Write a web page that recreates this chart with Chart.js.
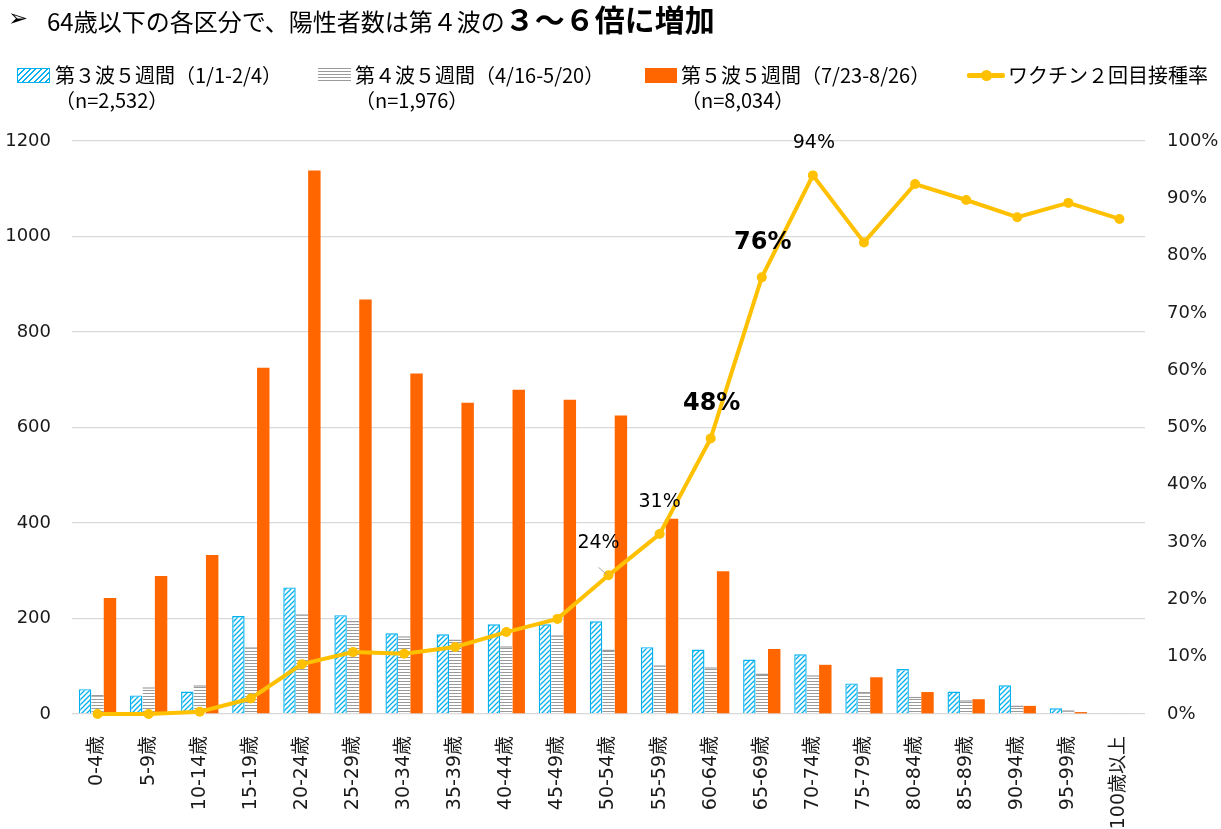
<!DOCTYPE html>
<html lang="ja">
<head>
<meta charset="utf-8">
<script src="https://cdn.jsdelivr.net/npm/chart.js@4/dist/chart.umd.min.js"></script>
<style>
  html, body { margin: 0; padding: 0; background: #fff; }
  #wrap { position: relative; width: 1221px; height: 829px; overflow: hidden; }
  #c { position: absolute; left: 0; top: 0; }
  .jp { font-family: "Noto Sans CJK JP", "Noto Sans", sans-serif; color: #000; white-space: nowrap; }
  #arrow { position: absolute; left: 8px; top: 2px; font: bold 24px "DejaVu Sans", sans-serif; color: #000; line-height: 32px; }
  #title { position: absolute; left: 47px; top: -2px; line-height: 40px; font-size: 24px; }
  #title b { font-size: 30px; font-weight: 700; }
  .lg { position: absolute; font-size: 20px; line-height: 24px; }
  .sw { position: absolute; box-sizing: border-box; }
</style>
</head>
<body>
<div id="wrap">
  <canvas id="c" width="1221" height="829"></canvas>
  <div id="arrow">➢</div>
  <div id="title" class="jp">64歳以下の各区分で、陽性者数は第４波の<b>３～６倍に増加</b></div>

  <div class="sw" style="left:17px;top:68px;width:33px;height:15px;border:1.5px solid #00b0f0;background:repeating-linear-gradient(135deg,#00b0f0 0 1.3px,#fff 1.3px 4px);"></div>
  <div class="lg jp" style="left:55px;top:63px;">第３波５週間（1/1-2/4）</div>
  <div class="lg jp" style="left:55px;top:88px;">（n=2,532）</div>

  <div class="sw" style="left:318px;top:68px;width:33px;height:15px;background:repeating-linear-gradient(to bottom,#9a9a9a 0 1px,#fff 1px 3px);"></div>
  <div class="lg jp" style="left:355px;top:63px;">第４波５週間（4/16-5/20）</div>
  <div class="lg jp" style="left:355px;top:88px;">（n=1,976）</div>

  <div class="sw" style="left:645px;top:68px;width:32px;height:15px;background:#ff6600;"></div>
  <div class="lg jp" style="left:681px;top:63px;">第５波５週間（7/23-8/26）</div>
  <div class="lg jp" style="left:681px;top:88px;">（n=8,034）</div>

  <div class="sw" style="left:967px;top:73px;width:38px;height:5px;background:#ffc000;border-radius:2px;"></div>
  <div class="sw" style="left:981px;top:70px;width:11px;height:11px;background:#ffc000;border-radius:50%;"></div>
  <div class="lg jp" style="left:1008px;top:63px;">ワクチン２回目接種率</div>
</div>
<script>
// ---- data ----
const categories = ['0-4歳','5-9歳','10-14歳','15-19歳','20-24歳','25-29歳','30-34歳','35-39歳','40-44歳','45-49歳','50-54歳','55-59歳','60-64歳','65-69歳','70-74歳','75-79歳','80-84歳','85-89歳','90-94歳','95-99歳','100歳以上'];
const wave3 = [52, 39, 47, 205, 265, 207, 169, 167, 188, 188, 194, 140, 135, 114, 125, 64, 94, 47, 60, 12, 0];
const wave4 = [40, 56, 60, 140, 209, 195, 163, 156, 142, 165, 135, 102, 98, 85, 81, 46, 36, 29, 18, 8, 2];
const wave5 = [243, 289, 333, 725, 1138, 868, 713, 652, 679, 658, 625, 409, 299, 136, 103, 77, 46, 31, 17, 4, 0];
const vaccine2 = [0, 0, 0.4, 2.7, 8.7, 10.8, 10.5, 11.7, 14.3, 16.6, 24.2, 31.4, 48.1, 76.2, 94.0, 82.3, 92.5, 89.7, 86.7, 89.2, 86.4];
const leftTicks = [0, 200, 400, 600, 800, 1000, 1200];
const rightTicks = [0, 10, 20, 30, 40, 50, 60, 70, 80, 90, 100];
const seriesNames = ['第３波５週間（1/1-2/4）（n=2,532）', '第４波５週間（4/16-5/20）（n=1,976）', '第５波５週間（7/23-8/26）（n=8,034）', 'ワクチン２回目接種率'];
const labeledPoints = [10, 11, 12, 13, 14];
const boldPoints = [12, 13];

// ---- patterns ----
function hatchPattern() {
  const c = document.createElement('canvas'); c.width = 5; c.height = 5;
  const g = c.getContext('2d');
  g.fillStyle = '#fff'; g.fillRect(0, 0, 5, 5);
  g.strokeStyle = '#00b0f0'; g.lineWidth = 1.3;
  g.beginPath();
  g.moveTo(-1, 6); g.lineTo(6, -1);
  g.moveTo(-1, 1); g.lineTo(1, -1);
  g.moveTo(4, 6); g.lineTo(6, 4);
  g.stroke();
  return g.createPattern(c, 'repeat');
}
function stripePattern() {
  const c = document.createElement('canvas'); c.width = 4; c.height = 3;
  const g = c.getContext('2d');
  g.fillStyle = '#fff'; g.fillRect(0, 0, 4, 3);
  g.fillStyle = '#9a9a9a'; g.fillRect(0, 0, 4, 1);
  return g.createPattern(c, 'repeat');
}

const pointLabels = {
  id: 'pointLabels',
  afterDatasetsDraw(chart) {
    const meta = chart.getDatasetMeta(0);
    const offs = {10: [-10, -32], 11: [0, -32], 12: [1, -35], 13: [1, -35], 14: [1, -32]};
    const g = chart.ctx;
    g.save();
    g.textAlign = 'center'; g.textBaseline = 'middle'; g.fillStyle = '#000';
    labeledPoints.forEach(i => {
      const p = meta.data[i];
      const bold = boldPoints.includes(i);
      g.font = bold ? 'bold 24px "DejaVu Sans"' : '19px "DejaVu Sans"';
      const o = offs[i];
      g.fillText(Math.round(vaccine2[i]) + '%', p.x + o[0], p.y + o[1]);
      if (i === 10) {
        g.strokeStyle = '#a6a6a6'; g.lineWidth = 1;
        g.beginPath(); g.moveTo(p.x - 10, p.y - 8); g.lineTo(p.x - 2, p.y - 1); g.stroke();
      }
    });
    g.restore();
  }
};

new Chart(document.getElementById('c'), {
  type: 'bar',
  data: {
    labels: categories,
    datasets: [
      { type: 'line', label: seriesNames[3], data: vaccine2, yAxisID: 'y1', order: 0,
        borderColor: '#ffc000', backgroundColor: '#ffc000', borderWidth: 4,
        pointRadius: 5, pointBorderWidth: 0, pointBackgroundColor: '#ffc000', tension: 0, clip: false },
      { label: seriesNames[0], data: wave3, yAxisID: 'y', order: 1,
        backgroundColor: hatchPattern(), borderColor: '#00b0f0', borderWidth: 1.4, borderSkipped: 'bottom' },
      { label: seriesNames[1], data: wave4, yAxisID: 'y', order: 1,
        backgroundColor: stripePattern(), borderColor: '#9a9a9a', borderWidth: {top: 1.5, left: 0, right: 0, bottom: 0} },
      { label: seriesNames[2], data: wave5, yAxisID: 'y', order: 1,
        backgroundColor: '#ff6600', borderWidth: 0 }
    ]
  },
  options: {
    responsive: false,
    animation: false,
    events: [],
    categoryPercentage: 0.73,
    barPercentage: 1.0,
    layout: { padding: { top: 141, left: 0, right: 0, bottom: 0 } },
    plugins: { legend: { display: false }, tooltip: { enabled: false }, title: { display: false } },
    scales: {
      x: {
        grid: { display: false }, border: { display: false },
        ticks: { autoSkip: false, minRotation: 90, maxRotation: 90, padding: 14, color: '#1a1a1a',
                 font: { family: '"DejaVu Sans", "Noto Sans CJK JP"', size: 19 } },
        afterFit(s) { s.height = 115; }
      },
      y: {
        position: 'left', min: 0, max: 1200,
        afterBuildTicks(s) { s.ticks = leftTicks.map(v => ({ value: v })); },
        grid: { color: '#d9d9d9', lineWidth: 1.3, drawTicks: false }, border: { display: false },
        ticks: { padding: 21, color: '#1a1a1a', font: { family: '"DejaVu Sans"', size: 18 },
                 callback: v => String(v) },
        afterFit(s) { s.width = 72; }
      },
      y1: {
        position: 'right', min: 0, max: 100,
        afterBuildTicks(s) { s.ticks = rightTicks.map(v => ({ value: v })); },
        grid: { display: false, drawTicks: false }, border: { display: false },
        ticks: { padding: 22, color: '#1a1a1a', font: { family: '"DejaVu Sans"', size: 18 },
                 callback: v => v + '%' },
        afterFit(s) { s.width = 76; }
      }
    }
  },
  plugins: [pointLabels]
});
</script>
</body>
</html>
